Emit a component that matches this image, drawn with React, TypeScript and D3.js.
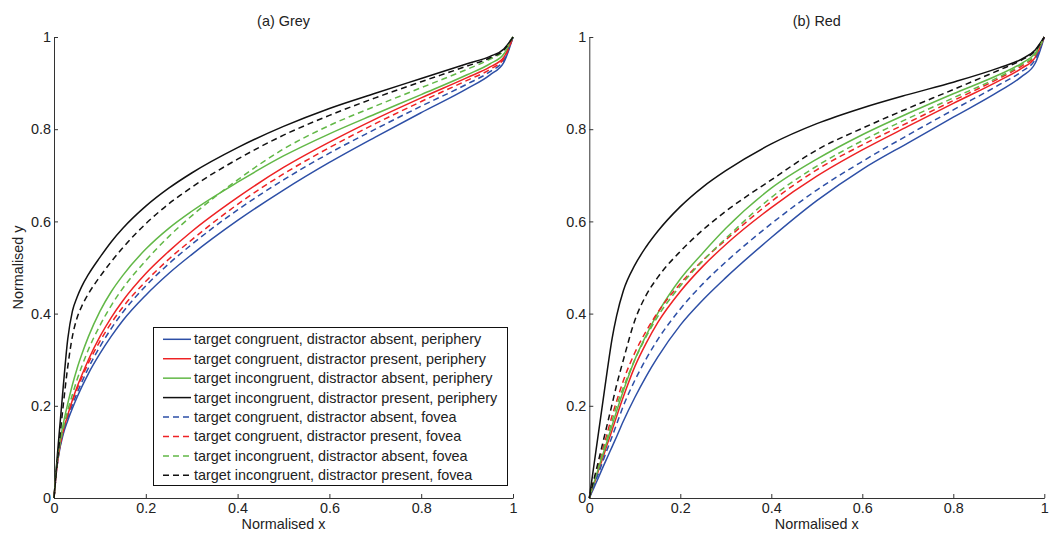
import React, { useEffect, useRef } from 'react';
import * as d3 from 'd3';

// shared x grid (normalised x)
const xs = [0, 0.005, 0.01, 0.02, 0.03, 0.04, 0.05, 0.06, 0.075, 0.1, 0.125, 0.15, 0.2, 0.25, 0.3, 0.4, 0.5, 0.6, 0.7, 0.8, 0.9, 0.95, 0.98, 1];

// (a) Grey
const greyCongAbsPeri = [0, .055, .092, .138, .168, .194, .218, .24, .27, .313, .351, .385, .44, .487, .528, .602, .668, .728, .783, .836, .888, .918, .945, 1];
const greyCongPresPeri = [0, .055, .095, .145, .18, .212, .24, .265, .3, .35, .392, .428, .487, .535, .578, .652, .717, .772, .822, .868, .912, .935, .956, 1];
const greyIncAbsPeri = [0, .062, .104, .16, .205, .245, .28, .31, .35, .405, .448, .483, .54, .585, .622, .685, .742, .79, .833, .875, .918, .942, .963, 1];
const greyIncPresPeri = [0, .065, .125, .24, .345, .405, .435, .458, .485, .522, .556, .585, .633, .672, .705, .76, .806, .845, .878, .91, .942, .958, .974, 1];
const greyCongAbsFov = [0, .056, .094, .142, .174, .202, .227, .25, .282, .328, .368, .403, .46, .508, .55, .625, .69, .748, .8, .85, .898, .925, .95, 1];
const greyCongPresFov = [0, .057, .097, .147, .18, .21, .236, .26, .293, .34, .38, .414, .47, .518, .56, .637, .703, .76, .812, .86, .906, .93, .953, 1];
const greyIncAbsFov = [0, .058, .098, .15, .19, .224, .256, .284, .322, .374, .418, .455, .515, .567, .612, .69, .757, .808, .85, .89, .93, .952, .97, 1];
const greyIncPresFov = [0, .055, .105, .2, .285, .35, .39, .415, .443, .48, .513, .543, .595, .638, .674, .735, .787, .83, .868, .903, .937, .955, .972, 1];

// (b) Red
const redCongAbsPeri = [0, .011, .022, .044, .067, .089, .111, .133, .167, .218, .264, .305, .375, .43, .478, .565, .645, .713, .77, .826, .882, .914, .943, 1];
const redCongPresPeri = [0, .015, .029, .059, .088, .118, .147, .177, .22, .285, .336, .38, .448, .503, .55, .63, .698, .755, .806, .856, .905, .932, .956, 1];
const redIncAbsPeri = [0, .016, .032, .064, .095, .126, .157, .188, .233, .3, .353, .4, .475, .532, .585, .672, .735, .788, .834, .877, .918, .943, .965, 1];
const redIncPresPeri = [0, .035, .07, .14, .21, .28, .345, .395, .45, .505, .545, .578, .632, .675, .71, .768, .812, .846, .875, .902, .933, .952, .972, 1];
const redCongAbsFov = [0, .013, .027, .053, .08, .107, .133, .16, .2, .255, .302, .343, .41, .465, .512, .595, .668, .73, .787, .842, .896, .925, .951, 1];
const redCongPresFov = [0, .018, .036, .071, .107, .143, .178, .21, .255, .315, .362, .402, .465, .516, .56, .643, .712, .766, .814, .862, .91, .937, .96, 1];
const redIncAbsFov = [0, .017, .033, .067, .1, .133, .167, .2, .24, .3, .35, .393, .46, .515, .563, .652, .72, .775, .823, .868, .913, .94, .962, 1];
const redIncPresFov = [0, .02, .04, .08, .121, .162, .203, .245, .3, .385, .44, .478, .535, .582, .622, .69, .755, .802, .845, .886, .928, .95, .97, 1];

const legendLabels = [
  'target congruent, distractor absent, periphery',
  'target congruent, distractor present, periphery',
  'target incongruent, distractor absent, periphery',
  'target incongruent, distractor present, periphery',
  'target congruent, distractor absent, fovea',
  'target congruent, distractor present, fovea',
  'target incongruent, distractor absent, fovea',
  'target incongruent, distractor present, fovea',
];
const seriesColors = ['#2d4fa6', '#ee2224', '#62b847', '#111111', '#2d4fa6', '#ee2224', '#62b847', '#111111'];
const seriesDashed = [false, false, false, false, true, true, true, true];

const tickValues = [0, 0.2, 0.4, 0.6, 0.8, 1];

const panels = [
  { title: '(a) Grey', left: 54, right: 513, series: [greyCongAbsPeri, greyCongPresPeri, greyIncAbsPeri, greyIncPresPeri, greyCongAbsFov, greyCongPresFov, greyIncAbsFov, greyIncPresFov], yLabel: true, legend: true },
  { title: '(b) Red', left: 589.3, right: 1044.3, series: [redCongAbsPeri, redCongPresPeri, redIncAbsPeri, redIncPresPeri, redCongAbsFov, redCongPresFov, redIncAbsFov, redIncPresFov], yLabel: false, legend: false },
];

const FONT = '"Liberation Sans", Arial, Helvetica, sans-serif';

const App = () => {
  const svgRef = useRef<SVGSVGElement>(null);

  useEffect(() => {
    const svg = d3.select(svgRef.current);
    svg.selectAll('*').remove();
    const top = 37;
    const bottom = 498;

    panels.forEach((p) => {
      const x = d3.scaleLinear().domain([0, 1]).range([p.left, p.right]);
      const y = d3.scaleLinear().domain([0, 1]).range([bottom, top]);
      const g = svg.append('g');

      // axes, ticks pointing inwards
      const xAxis = g.append('g')
        .attr('transform', `translate(0,${bottom})`)
        .call(d3.axisBottom(x).tickValues(tickValues).tickFormat((d) => String(d)).tickSizeInner(-4).tickSizeOuter(0).tickPadding(5));
      const yAxis = g.append('g')
        .attr('transform', `translate(${p.left},0)`)
        .call(d3.axisLeft(y).tickValues(tickValues).tickFormat((d) => String(d)).tickSizeInner(-4).tickSizeOuter(0).tickPadding(3));
      [xAxis, yAxis].forEach((a) => {
        a.selectAll('path, line').attr('stroke', '#333').attr('stroke-width', 1);
        a.selectAll('text').attr('fill', '#222').style('font-size', '14.4px').style('font-family', FONT);
      });

      // curves
      const line = d3.line<number>()
        .x((_, i) => x(xs[i]))
        .y((d) => y(d))
        .curve(d3.curveMonotoneX);
      p.series.forEach((s, i) => {
        g.append('path')
          .attr('d', line(s))
          .attr('fill', 'none')
          .attr('stroke', seriesColors[i])
          .attr('stroke-width', 1.5)
          .attr('stroke-dasharray', seriesDashed[i] ? '6,4' : null);
      });

      // titles
      g.append('text')
        .attr('x', (p.left + p.right) / 2)
        .attr('y', 26)
        .attr('text-anchor', 'middle')
        .style('font-size', '14.4px')
        .style('font-family', FONT)
        .attr('fill', '#222')
        .text(p.title);
      g.append('text')
        .attr('x', (p.left + p.right) / 2)
        .attr('y', 529)
        .attr('text-anchor', 'middle')
        .style('font-size', '14.4px')
        .style('font-family', FONT)
        .attr('fill', '#222')
        .text('Normalised x');
      if (p.yLabel) {
        g.append('text')
          .attr('transform', `translate(23,${(top + bottom) / 2}) rotate(-90)`)
          .attr('text-anchor', 'middle')
          .style('font-size', '14.4px')
          .style('font-family', FONT)
          .attr('fill', '#222')
          .text('Normalised y');
      }

      // legend
      if (p.legend) {
        const lg = g.append('g');
        lg.append('rect')
          .attr('x', 153.5).attr('y', 327.5)
          .attr('width', 354).attr('height', 158)
          .attr('fill', '#fff').attr('stroke', '#111').attr('stroke-width', 1);
        legendLabels.forEach((label, i) => {
          const cy = 339.3 + i * 19.43;
          lg.append('line')
            .attr('x1', 163).attr('x2', 191)
            .attr('y1', cy).attr('y2', cy)
            .attr('stroke', seriesColors[i])
            .attr('stroke-width', 1.5)
            .attr('stroke-dasharray', seriesDashed[i] ? '6,4' : null);
          lg.append('text')
            .attr('x', 194)
            .attr('y', cy + 5)
            .style('font-size', '14.4px')
            .style('font-family', FONT)
            .attr('fill', '#222')
            .text(label);
        });
      }
    });
  }, []);

  return (
    <>
      <style>{'body{margin:0}'}</style>
      <svg ref={svgRef} width={1057} height={533} style={{ display: 'block', background: '#fff' }} />
    </>
  );
};

export default App;
